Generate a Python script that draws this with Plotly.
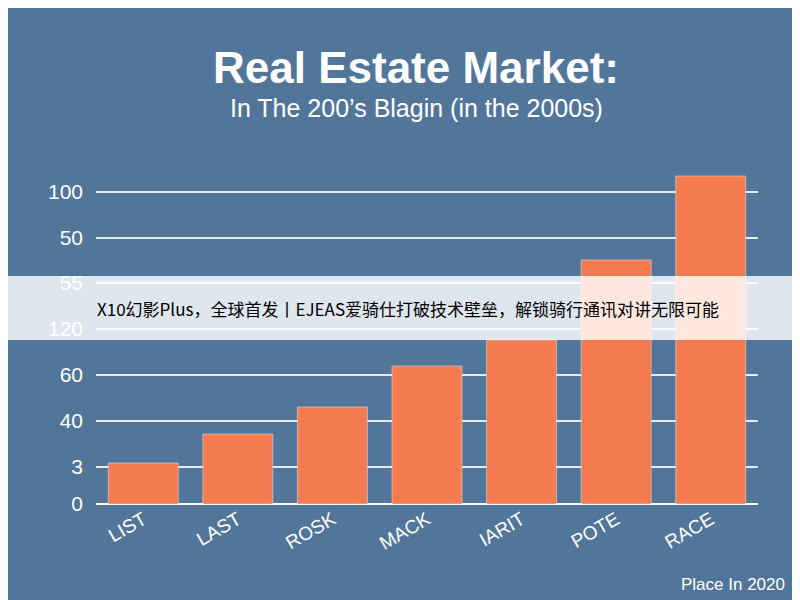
import plotly.graph_objects as go

categories = ['LIST', 'LAST', 'ROSK', 'MACK', 'IARIT', 'POTE', 'RACE']
values = [41, 70, 97, 138, 164, 244, 328]
tick_vals = [0, 37, 83, 129, 175, 221, 266, 312]
tick_text = ['0', '3', '40', '60', '120', '55', '50', '100']

bg = '#52769a'
fig = go.Figure()
fig.add_trace(go.Bar(x=categories, y=values, marker_color='#f47b4f',
                     width=0.74, showlegend=False))

ph = 600 - 166 - 104
pw = 800 - 88 - 50
def py(pix):
    return (600 - 104 - pix) / ph
def px(pix):
    return (pix - 88) / pw

def note(text, x, y, size, color='white', family=None):
    f = dict(size=size, color=color)
    if family:
        f['family'] = family
    return dict(text=text, x=px(x), y=py(y), xref='paper', yref='paper',
                xanchor='center', yanchor='middle', showarrow=False, font=f)

fig.update_layout(
    width=800, height=600,
    paper_bgcolor=bg, plot_bgcolor=bg,
    margin=dict(l=88, r=50, t=166, b=104),
    font=dict(family='Liberation Sans, Arial', color='white'),
    xaxis=dict(tickangle=-30, tickfont=dict(size=19, color='white'),
               showgrid=False, showline=False),
    yaxis=dict(range=[0, 330], tickvals=tick_vals, ticktext=tick_text,
               tickfont=dict(size=21, color='white'), gridcolor='rgba(255,255,255,0.85)',
               gridwidth=1.5, zeroline=True, zerolinecolor='white', ticklabelstandoff=12),
    annotations=[
        note('<b>Real Estate Market:</b>', 408, 60, 44),
        note('In The 200’s Blagin (in the 2000s)', 408, 100, 25),
        note('Place In 2020', 725, 576, 17),
        note('X10幻影Plus，全球首发丨EJEAS爱骑仕打破技术壁垒，解锁骑行通讯对讲无限可能',
             400, 300, 17, 'black', 'Noto Sans CJK SC'),
    ],
    shapes=[dict(type='rect', xref='paper', yref='paper', x0=px(0), x1=px(800),
                 y0=py(332), y1=py(268), fillcolor='rgba(255,255,255,0.82)',
                 line_width=0, layer='above')],
)

fig.write_html('out.html')
